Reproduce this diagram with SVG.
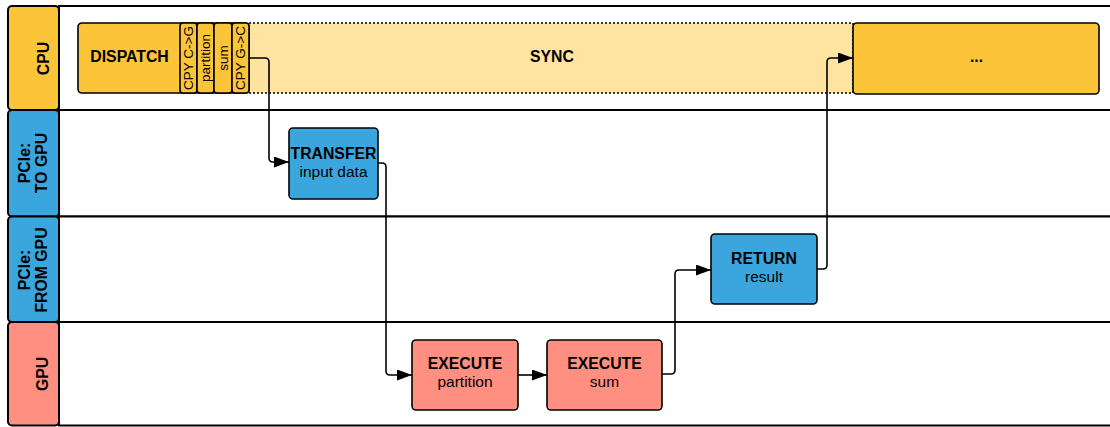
<svg xmlns="http://www.w3.org/2000/svg" width="1110" height="427" viewBox="0 0 1110 427">
<style>
.lane{fill:#fff;stroke:#000;stroke-width:2}
.lbl{stroke:#000;stroke-width:2}
.box{stroke:#000;stroke-width:1.6}
.cpu{fill:#fcc438}
.pcie{fill:#3aa6dd}
.gpu{fill:#ff8f80}
.t{font-family:"Liberation Sans",Arial,sans-serif;fill:#000;text-anchor:middle}
.b{font-weight:bold;font-size:15.8px}
.r{font-size:15.5px}
.s{font-size:13.5px}
.conn{fill:none;stroke:#000;stroke-width:1.6}
</style>
<defs>
<marker id="arr" markerUnits="userSpaceOnUse" markerWidth="16" markerHeight="12" refX="15" refY="5.5" orient="auto">
<path d="M0,0 L15,5.5 L0,11 z" fill="#000"/>
</marker>
</defs>

<g id="lanes">
<rect class="lane" x="59" y="6" width="1070" height="104"/>
<rect class="lane" x="59" y="110" width="1070" height="106.5"/>
<rect class="lane" x="59" y="216.5" width="1070" height="105.5"/>
<rect class="lane" x="59" y="322" width="1070" height="103.5"/>
</g>

<g id="lane-cpu">
<rect class="lbl cpu" x="8" y="6" width="51" height="104" rx="4"/>
<text class="t b" transform="translate(48.5,58.5) rotate(-90)">CPU</text>
</g>
<g id="lane-pcie-to">
<rect class="lbl pcie" x="8" y="110" width="51" height="106.5" rx="4"/>
<text class="t b" transform="translate(29.5,163) rotate(-90)">PCIe:</text>
<text class="t b" transform="translate(47,163) rotate(-90)">TO GPU</text>
</g>
<g id="lane-pcie-from">
<rect class="lbl pcie" x="8" y="216.5" width="51" height="105.5" rx="4"/>
<text class="t b" transform="translate(29.5,270) rotate(-90)">PCIe:</text>
<text class="t b" transform="translate(47,270) rotate(-90)">FROM GPU</text>
</g>
<g id="lane-gpu">
<rect class="lbl gpu" x="8" y="322" width="51" height="103.5" rx="4"/>
<text class="t b" transform="translate(47.5,374) rotate(-90)">GPU</text>
</g>

<g id="sync">
<rect x="249" y="23" width="604" height="70" fill="#ffe3a1" stroke="#000" stroke-width="1.5" stroke-dasharray="2,2"/>
<text class="t b" x="552" y="61.5">SYNC</text>
</g>

<g id="dispatch">
<rect class="box cpu" x="78" y="23" width="171" height="70" rx="4"/>
<text class="t b" x="129.5" y="61.5">DISPATCH</text>
</g>
<g id="cpy-c-g">
<rect class="box cpu" x="180" y="23" width="17" height="70" rx="3"/>
<text class="t s" transform="translate(193.3,58) rotate(-90)">CPY C-&gt;G</text>
</g>
<g id="partition-sub">
<rect class="box cpu" x="197" y="23" width="17" height="70" rx="3"/>
<text class="t s" transform="translate(210.3,58) rotate(-90)">partition</text>
</g>
<g id="sum-sub">
<rect class="box cpu" x="214" y="23" width="18" height="70" rx="3"/>
<text class="t s" transform="translate(227.8,58) rotate(-90)">sum</text>
</g>
<g id="cpy-g-c">
<rect class="box cpu" x="232" y="23" width="17" height="70" rx="3"/>
<text class="t s" transform="translate(245.3,58) rotate(-90)">CPY G-&gt;C</text>
</g>

<g id="more">
<rect class="box cpu" x="853" y="23" width="246" height="71" rx="4"/>
<text class="t b" x="976.5" y="62">...</text>
</g>

<g id="transfer">
<rect class="box pcie" x="289" y="128" width="89" height="71" rx="4"/>
<text class="t b" x="333.5" y="158.5">TRANSFER</text>
<text class="t r" x="333.5" y="176.5">input data</text>
</g>

<g id="return">
<rect class="box pcie" x="711" y="234" width="106" height="70" rx="4"/>
<text class="t b" x="764" y="263.5">RETURN</text>
<text class="t r" x="764" y="282">result</text>
</g>

<g id="exec-partition">
<rect class="box gpu" x="412" y="340" width="106" height="70" rx="4"/>
<text class="t b" x="465" y="368.5">EXECUTE</text>
<text class="t r" x="465" y="387">partition</text>
</g>

<g id="exec-sum">
<rect class="box gpu" x="547" y="340" width="115" height="70" rx="4"/>
<text class="t b" x="604.5" y="368.5">EXECUTE</text>
<text class="t r" x="604.5" y="387">sum</text>
</g>

<g id="connectors">
<path class="conn" marker-end="url(#arr)" d="M249,58 H265 Q269,58 269,62 V158 Q269,162 273,162 H289"/>
<path class="conn" marker-end="url(#arr)" d="M378,163 H382 Q386,163 386,167 V371 Q386,375 390,375 H412"/>
<path class="conn" marker-end="url(#arr)" d="M518,375 H547"/>
<path class="conn" marker-end="url(#arr)" d="M662,374 H671 Q675,374 675,370 V274 Q675,270 679,270 H711"/>
<path class="conn" marker-end="url(#arr)" d="M817,269 H823 Q827,269 827,265 V62 Q827,58 831,58 H853"/>
</g>
</svg>
